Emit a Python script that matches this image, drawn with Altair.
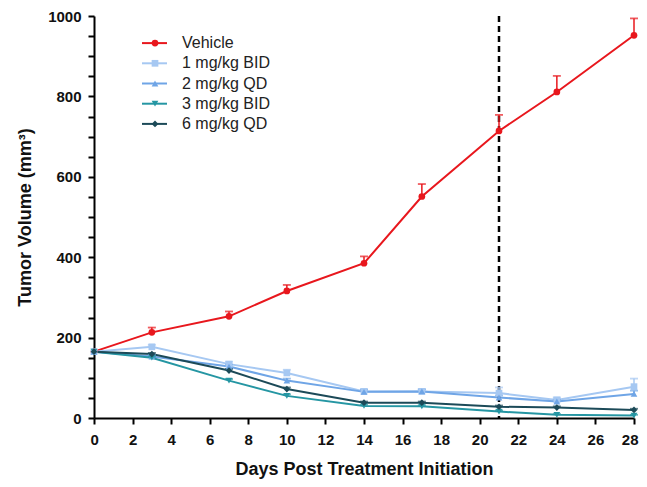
import altair as alt
import pandas as pd

days = [0, 3, 7, 10, 14, 17, 21, 24, 28]
series_names = ["Vehicle", "1 mg/kg BID", "2 mg/kg QD", "3 mg/kg BID", "6 mg/kg QD"]
vehicle = [165, 213, 253, 316, 385, 551, 714, 811, 952]
vehicle_err = [0, 12, 12, 15, 17, 31, 40, 40, 42]
bid1 = [165, 177, 134, 112, 66, 66, 62, 45, 78]
bid1_err = [0, 5, 6, 8, 6, 6, 14, 6, 20]
qd2 = [165, 153, 128, 93, 65, 66, 51, 41, 60]
qd2_err = [0, 4, 5, 5, 5, 5, 5, 5, 8]
bid3 = [165, 150, 93, 55, 30, 29, 16, 8, 6]
bid3_err = [0, 3, 4, 4, 3, 3, 3, 2, 2]
qd6 = [165, 159, 118, 72, 38, 38, 28, 26, 20]
qd6_err = [0, 3, 4, 4, 3, 3, 3, 3, 3]
colors = ["#E8171D", "#A6C8F2", "#6FA5E6", "#2596A3", "#1C4A58"]
shapes = ["circle", "square", "triangle-up", "triangle-down", "diamond"]
y_ticks = list(range(0, 1001, 50))
x_ticks = list(range(0, 29, 2))
cutoff_day = [21]

rows = []
for name, vals, errs in zip(series_names,
                            [vehicle, bid1, qd2, bid3, qd6],
                            [vehicle_err, bid1_err, qd2_err, bid3_err, qd6_err]):
    for d, v, e in zip(days, vals, errs):
        rows.append({"day": d, "vol": v, "hi": v + e, "series": name})
df = pd.DataFrame(rows)
df_err = df[df["hi"] > df["vol"]]

FONT = "Liberation Sans"
color = alt.Color("series:N", scale=alt.Scale(domain=series_names, range=colors), legend=None)
shape = alt.Shape("series:N", scale=alt.Scale(domain=series_names, range=shapes), legend=None)

xscale = alt.Scale(domain=[0, 28], nice=False)
yscale = alt.Scale(domain=[0, 1000], nice=False)
xaxis = alt.Axis(values=x_ticks, title="Days Post Treatment Initiation", format="d",
                 grid=False, domainColor="black", domainWidth=2,
                 tickColor="black", tickWidth=2, tickSize=6,
                 labelFont=FONT, labelFontWeight="bold", labelFontSize=15,
                 labelColor="#111", titleFont=FONT, titleFontWeight="bold",
                 titleFontSize=18, titleColor="#111", titlePadding=13,
                 labelPadding=8, labelFlush=True, labelFlushOffset=4,
                 labelOverlap=False)
yaxis = alt.Axis(values=y_ticks, title="Tumor Volume (mm³)", format="d",
                 labelExpr="datum.value % 200 == 0 ? datum.label : ''",
                 grid=False, domainColor="black", domainWidth=2,
                 tickColor="black", tickWidth=2, tickSize=6,
                 labelFont=FONT, labelFontWeight="bold", labelFontSize=15,
                 labelColor="#111", titleFont=FONT, titleFontWeight="bold",
                 titleFontSize=18, titleColor="#111", titlePadding=13,
                 labelPadding=7, labelFlush=False, labelOverlap=False)

xenc = alt.X("day:Q", scale=xscale, axis=xaxis)
yenc = alt.Y("vol:Q", scale=yscale, axis=yaxis)

base = alt.Chart(df)

lines = base.mark_line(strokeWidth=2).encode(
    x=xenc, y=yenc, color=color, detail="series:N",
    order=alt.Order("day:Q"))
err_rule = alt.Chart(df_err).mark_rule(strokeWidth=1.5).encode(
    x=xenc, y=yenc, y2="hi:Q", color=color)
err_cap = alt.Chart(df_err).mark_tick(orient="horizontal", size=8, thickness=1.8).encode(
    x=xenc, y=alt.Y("hi:Q", scale=yscale, axis=yaxis), color=color)
points = base.mark_point(filled=True, size=45, opacity=1).encode(
    x=xenc, y=yenc, color=color, shape=shape)

vline = alt.Chart(pd.DataFrame({"day": cutoff_day})).mark_rule(
    color="black", strokeWidth=2.5, strokeDash=[6, 4]).encode(
    x=xenc, y=alt.value(0), y2=alt.value(402))

leg_df = pd.DataFrame({"series": series_names})
leg_y = alt.Y("series:N", scale=alt.Scale(domain=series_names, range=[17, 118]), axis=None)
leg_line = alt.Chart(leg_df).mark_rule(strokeWidth=2).encode(
    x=alt.value(48), x2=alt.value(73), y=leg_y, color=color)
leg_pt = alt.Chart(leg_df).mark_point(filled=True, size=45, opacity=1).encode(
    x=alt.value(61), y=leg_y, color=color, shape=shape)
leg_txt = alt.Chart(leg_df).mark_text(align="left", baseline="middle", font=FONT,
                                      fontSize=16, color="#222").encode(
    x=alt.value(88), y=leg_y, text="series:N")

main = alt.layer(lines, vline, err_rule, err_cap, points)
legend = alt.layer(leg_line, leg_pt, leg_txt)

chart = alt.layer(main, legend).resolve_scale(y="independent").properties(
    width=540, height=402,
    autosize=alt.AutoSizeParams(type="none"),
    padding={"left": 86, "top": 8, "right": 5, "bottom": 61},
    background="white",
).configure_view(stroke=None)

chart.save("out.html", embed_options={"renderer": "svg", "actions": False})
